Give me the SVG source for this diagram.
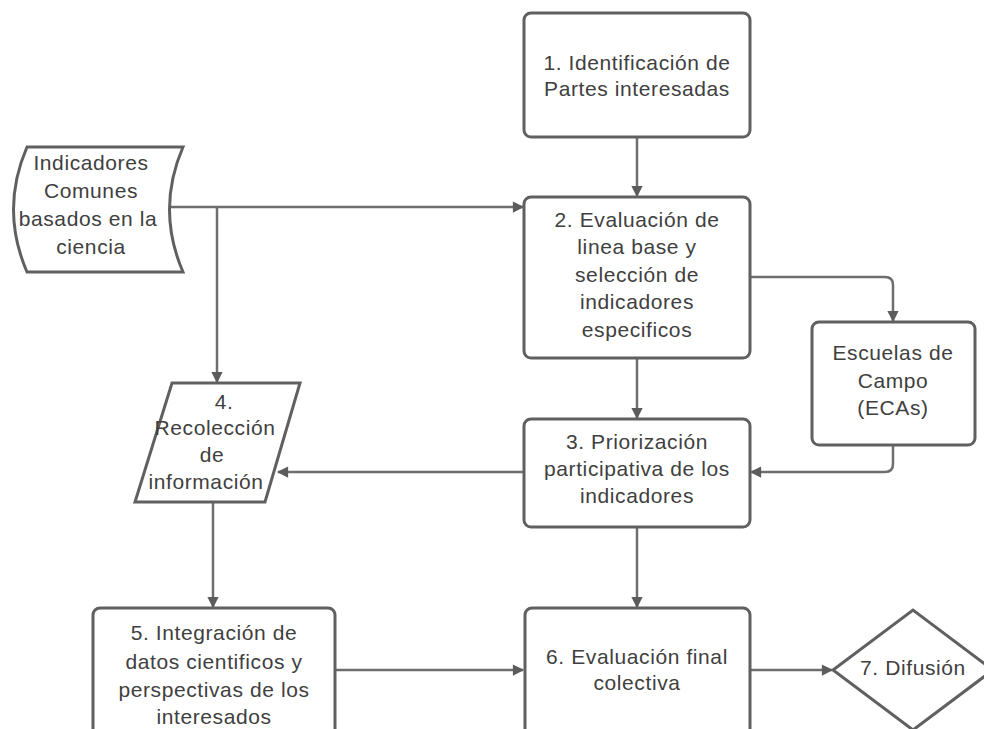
<svg xmlns="http://www.w3.org/2000/svg" width="984" height="729" viewBox="0 0 984 729">
<style>
.n{fill:#fff;stroke:#606060;stroke-width:3}
.t{font-family:"Liberation Sans",Arial,sans-serif;font-size:21px;letter-spacing:0.6px;fill:#404040;text-anchor:middle}
.c{fill:none;stroke:#6e6e6e;stroke-width:2.5}
</style>
<defs>
<marker id="a" viewBox="0 0 10 10" refX="9" refY="5" markerWidth="5" markerHeight="4.5" orient="auto" markerUnits="strokeWidth">
<path d="M0,0 L10,5 L0,10 Z" fill="#5c5c5c"/>
</marker>
</defs>
<rect width="984" height="729" fill="#fff"/>
<g id="connectors">
<path class="c" d="M637,137 V196" marker-end="url(#a)"/>
<path class="c" d="M163,207 H523" marker-end="url(#a)"/>
<path class="c" d="M217,207 V382" marker-end="url(#a)"/>
<path class="c" d="M637,358 V418" marker-end="url(#a)"/>
<path class="c" d="M750,277 H885 Q893,277 893,285 V321" marker-end="url(#a)"/>
<path class="c" d="M893,445 V464 Q893,472 885,472 H751" marker-end="url(#a)"/>
<path class="c" d="M524,472 H278" marker-end="url(#a)"/>
<path class="c" d="M213,502 V607" marker-end="url(#a)"/>
<path class="c" d="M637,527 V607" marker-end="url(#a)"/>
<path class="c" d="M335,670 H523" marker-end="url(#a)"/>
<path class="c" d="M750,670 H832" marker-end="url(#a)"/>
</g>
<g id="n1">
<rect class="n" x="524" y="13" width="226" height="124" rx="7"/>
<text class="t" x="637" y="70">1. Identificación de</text>
<text class="t" x="637" y="96">Partes interesadas</text>
</g>
<g id="nInd">
<path class="n" d="M183,147 L27,147 Q0,209.5 27,272 L183,272 Q156,209.5 183,147 Z"/>
<text class="t" x="91" y="170">Indicadores</text>
<text class="t" x="91" y="198">Comunes</text>
<text class="t" x="88" y="226">basados en la</text>
<text class="t" x="91" y="254">ciencia</text>
</g>
<g id="n2">
<rect class="n" x="524" y="197" width="226" height="161" rx="7"/>
<text class="t" x="637" y="227">2. Evaluación de</text>
<text class="t" x="637" y="254">linea base y</text>
<text class="t" x="637" y="282">selección de</text>
<text class="t" x="637" y="309">indicadores</text>
<text class="t" x="637" y="337">especificos</text>
</g>
<g id="nECA">
<rect class="n" x="812" y="322" width="163" height="123" rx="7"/>
<text class="t" x="893" y="360">Escuelas de</text>
<text class="t" x="893" y="388">Campo</text>
<text class="t" x="893" y="415">(ECAs)</text>
</g>
<g id="n3">
<rect class="n" x="524" y="419" width="226" height="108" rx="7"/>
<text class="t" x="637" y="449">3. Priorización</text>
<text class="t" x="637" y="476">participativa de los</text>
<text class="t" x="637" y="503">indicadores</text>
</g>
<g id="n4">
<path class="n" d="M172,383 L300,383 L265,502 L135,502 Z"/>
<text class="t" x="224" y="409">4.</text>
<text class="t" x="215" y="435">Recolección</text>
<text class="t" x="212" y="462">de</text>
<text class="t" x="206" y="489">información</text>
</g>
<g id="n5">
<rect class="n" x="93" y="608" width="242" height="140" rx="7"/>
<text class="t" x="214" y="640">5. Integración de</text>
<text class="t" x="214" y="669">datos cientificos y</text>
<text class="t" x="214" y="697">perspectivas de los</text>
<text class="t" x="214" y="724">interesados</text>
</g>
<g id="n6">
<rect class="n" x="525" y="608" width="225" height="140" rx="7"/>
<text class="t" x="637" y="664">6. Evaluación final</text>
<text class="t" x="637" y="690">colectiva</text>
</g>
<g id="n7">
<path class="n" d="M833,670 L913,610 L993,670 L913,730 Z"/>
<text class="t" x="913" y="675">7. Difusión</text>
</g>
</svg>
